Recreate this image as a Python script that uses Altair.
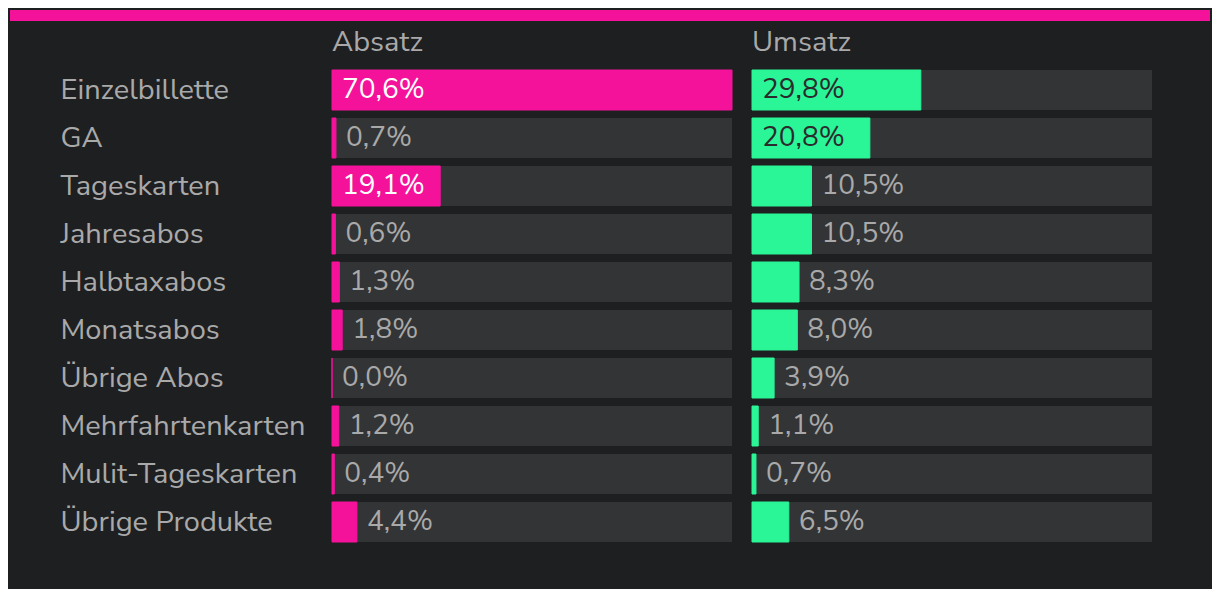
import altair as alt
import pandas as pd

categories = ["Einzelbillette", "GA", "Tageskarten", "Jahresabos", "Halbtaxabos",
              "Monatsabos", "Übrige Abos", "Mehrfahrtenkarten", "Mulit-Tageskarten",
              "Übrige Produkte"]
absatz = [70.6, 0.7, 19.1, 0.6, 1.3, 1.8, 0.0, 1.2, 0.4, 4.4]
umsatz = [29.8, 20.8, 10.5, 10.5, 8.3, 8.0, 3.9, 1.1, 0.7, 6.5]
headers = ["Absatz", "Umsatz"]

BG = "#1e1f21"
TRACK = "#333436"
PINK = "#f5129a"
GREEN = "#2af597"
GREY = "#a9a9a9"
FONT = "Nunito Sans, Lato, sans-serif"
FS_LABEL = 29
FS_VAL = 28

vmax = max(absatz + umsatz)


def fmt(v):
    return f"{v:.1f}".replace(".", ",") + "%"


def panel(values, title, color, inside_color, show_axis):
    df = pd.DataFrame({
        "cat": categories,
        "value": values,
        "full": [vmax] * len(values),
        "label": [fmt(v) for v in values],
    })
    yenc = alt.Y("cat:N", sort=categories,
                 scale=alt.Scale(paddingInner=8 / 48, paddingOuter=0),
                 axis=(alt.Axis(title=None, domain=False, ticks=False, grid=False,
                                labelAlign="left", labelPadding=272,
                                labelFontSize=FS_LABEL, labelColor=GREY, labelFont=FONT,
                                labelLimit=400, labelBaseline="middle")
                       if show_axis else None))
    xscale = alt.Scale(domain=[0, vmax], nice=False, zero=True)
    base = alt.Chart(df)
    track = base.mark_bar(color=TRACK).encode(
        x=alt.X("full:Q", scale=xscale, axis=None), y=yenc)
    bar = base.mark_bar(color=color, stroke=color, strokeWidth=1).encode(
        x=alt.X("value:Q", scale=xscale, axis=None), y=yenc)
    inside = base.transform_filter(alt.datum.value >= 15).mark_text(
        align="left", baseline="middle", dx=10, fontSize=FS_VAL, font=FONT,
        color=inside_color).encode(
        x=alt.value(0), y=yenc, text="label:N")
    outside = base.transform_filter(alt.datum.value < 15).mark_text(
        align="left", baseline="middle", dx=10, fontSize=FS_VAL, font=FONT,
        color=GREY).encode(
        x=alt.X("value:Q", scale=xscale, axis=None), y=yenc, text="label:N")
    head = alt.Chart(pd.DataFrame({"h": [title]})).mark_text(
        align="left", baseline="alphabetic", fontSize=FS_LABEL, font=FONT,
        color=GREY).encode(
        x=alt.value(0), y=alt.value(-19), text="h:N")
    layers = [track, bar, inside, outside, head]
    if show_axis:
        band = alt.Chart(pd.DataFrame({"a": [0]})).mark_rect(color=PINK).encode(
            x=alt.value(-322), x2=alt.value(878),
            y=alt.value(-60), y2=alt.value(-49))
        layers.append(band)
    return alt.layer(*layers).properties(width=400, height=472)


left = panel(absatz, headers[0], PINK, "#ffffff", True)
right = panel(umsatz, headers[1], GREEN, "#2a2b2d", False)

chart = alt.hconcat(left, right, spacing=20, bounds="flush").properties(
    background=BG,
    padding={"left": 2, "top": 2, "right": 2, "bottom": 46},
).configure_view(stroke=None)

chart.save("out.html", embed_options={"renderer": "svg", "actions": False})
